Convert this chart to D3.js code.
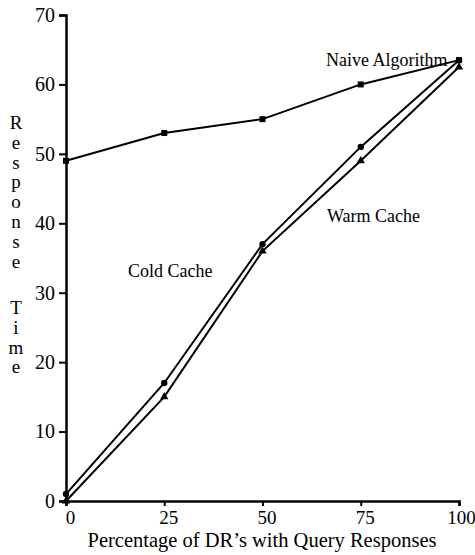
<!DOCTYPE html>
<html>
<head>
<meta charset="utf-8">
<script src="https://cdn.jsdelivr.net/npm/d3@7"></script>
<style>
  body { margin: 0; background: #fff; }
  text { font-family: "Liberation Serif", "DejaVu Serif", serif; fill: #000; }
</style>
</head>
<body>
<script>
// data
const pct = [0, 25, 50, 75, 100];
const naive = [49, 53, 55, 60, 63.5];
const cold = [1, 17, 37, 51, 63.5];
const warm = [0, 15, 36, 49, 62.5];
const yTicks = [0, 10, 20, 30, 40, 50, 60, 70];
const yWords = ["Response", "Time"];

const width = 475,
  height = 555;
const serif = '"Liberation Serif", "DejaVu Serif", serif';

const svg = d3
  .select("body")
  .append("svg")
  .attr("width", width)
  .attr("height", height);

const xScale = d3.scaleLinear().domain([0, 100]).range([66, 459]);
const yScale = d3.scaleLinear().domain([0, 70]).range([501, 15]);

// y axis
const yAxis = d3.axisLeft(yScale).tickValues(yTicks).tickSize(7).tickPadding(4);
const gy = svg.append("g").attr("transform", "translate(66,0)").call(yAxis);
gy.attr("font-family", serif);
gy.select(".domain").attr("stroke-width", 2.5);
gy.selectAll(".tick line").attr("stroke-width", 2);
gy.selectAll(".tick text").style("font-size", "20px").style("font-family", serif);

// x axis
const xAxis = d3.axisBottom(xScale).tickValues(pct).tickSize(5).tickPadding(5);
const gx = svg.append("g").attr("transform", "translate(0,501)").call(xAxis);
gx.attr("font-family", serif);
gx.select(".domain").attr("stroke-width", 2.5);
gx.selectAll(".tick line").attr("stroke-width", 2);
gx.selectAll(".tick text")
  .style("font-size", "19px")
  .style("font-family", serif)
  .attr("dx", (d) => (d == 100 ? 2 : 4));

// axis titles
svg
  .append("text")
  .attr("x", 262)
  .attr("y", 547)
  .attr("text-anchor", "middle")
  .style("font-size", "20.5px")
  .text("Percentage of DR\u2019s with Query Responses");

// vertical title, one letter under the other
const wordTop = [129, 314];
yWords.forEach((w, k) => {
  svg
    .append("g")
    .selectAll("text")
    .data(w.split(""))
    .enter()
    .append("text")
    .attr("x", 16)
    .attr("y", (d, i) => wordTop[k] + i * 19.8)
    .attr("text-anchor", "middle")
    .style("font-size", "19px")
    .text((d) => d);
});

// lines
const line = d3
  .line()
  .x((d, i) => xScale(pct[i]))
  .y((d) => yScale(d));

[naive, cold, warm].forEach((s) => {
  svg
    .append("path")
    .attr("d", line(s))
    .attr("fill", "none")
    .attr("stroke", "#000")
    .attr("stroke-width", 2);
});

// markers
svg
  .selectAll(".sq")
  .data(naive)
  .enter()
  .append("rect")
  .attr("x", (d, i) => xScale(pct[i]) - 3)
  .attr("y", (d) => yScale(d) - 3)
  .attr("width", 6)
  .attr("height", 6)
  .attr("fill", "#000");

svg
  .selectAll(".dot")
  .data(cold)
  .enter()
  .append("circle")
  .attr("cx", (d, i) => xScale(pct[i]))
  .attr("cy", (d) => yScale(d))
  .attr("r", 3.2)
  .attr("fill", "#000");

const tri = d3.symbol().type(d3.symbolTriangle).size(30);
svg
  .selectAll(".tri")
  .data(warm)
  .enter()
  .append("path")
  .attr("d", tri)
  .attr("transform", (d, i) => `translate(${xScale(pct[i])},${yScale(d)})`)
  .attr("fill", "#000");

// series labels
const labels = [
  { t: "Naive Algorithm", x: 326, y: 66 },
  { t: "Warm Cache", x: 327, y: 222 },
  { t: "Cold Cache", x: 128, y: 277 },
];
svg
  .selectAll(".lab")
  .data(labels)
  .enter()
  .append("text")
  .attr("x", (d) => d.x)
  .attr("y", (d) => d.y)
  .style("font-size", "18px")
  .text((d) => d.t);
</script>
</body>
</html>
